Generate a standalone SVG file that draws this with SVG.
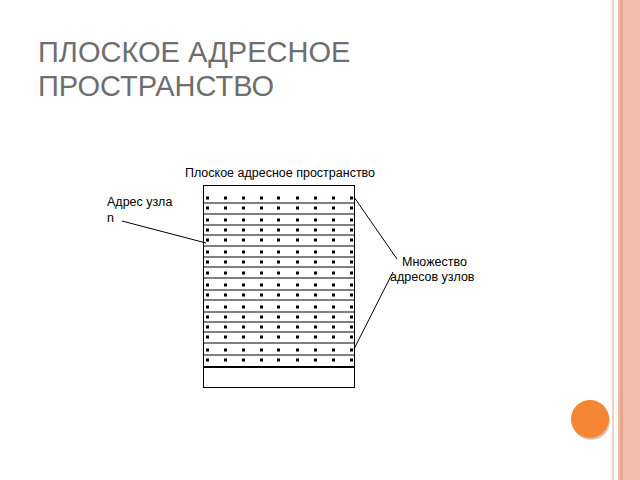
<svg xmlns="http://www.w3.org/2000/svg" width="640" height="480" viewBox="0 0 640 480">
<style>
.h{font-family:"Liberation Sans",Arial,sans-serif;font-size:29px;fill:#6e6e6e}
.t{font-family:"Liberation Sans",Arial,sans-serif;font-size:12.5px;fill:#000}
.ln{stroke:#000;stroke-width:1;fill:none}
</style>
<defs>
<g id="dots" fill="#000">
<rect x="206" y="-1.5" width="3" height="3"/><rect x="224" y="-1.5" width="3" height="3"/><rect x="242" y="-1.5" width="3" height="3"/><rect x="260" y="-1.5" width="3" height="3"/><rect x="277" y="-1.5" width="3" height="3"/><rect x="296" y="-1.5" width="3" height="3"/><rect x="314" y="-1.5" width="3" height="3"/><rect x="332" y="-1.5" width="3" height="3"/><rect x="350" y="-1.5" width="3" height="3"/>
</g>
</defs>
<rect width="640" height="480" fill="#fff"/>
<rect x="612" y="0" width="2" height="480" fill="#f6d0c2"/>
<rect x="618" y="0" width="22" height="480" fill="#f2bcaa"/>
<rect x="620" y="0" width="3" height="480" fill="#eaa68e"/>
<circle cx="591" cy="421" r="19" fill="#a07060" opacity="0.4"/>
<circle cx="590" cy="419" r="19" fill="#f58634"/>
<text class="h" x="38" y="62">ПЛОСКОЕ АДРЕСНОЕ</text>
<text class="h" x="38" y="96">ПРОСТРАНСТВО</text>
<g id="title"><text class="t" x="280" y="177" text-anchor="middle" font-size="13.5">Плоское адресное пространство</text></g>
<g id="space">
<rect class="ln" x="203.5" y="185.5" width="151" height="202"/>
<g class="ln">
<path d="M203 203H354M203 214H354M203 225H354M203 235H354M203 246H354M203 257H354M203 267H354M203 278H354M203 290H354M203 300H354M203 312H354M203 322H354M203 332H354M203 343H354M203 355H354"/>
<path d="M203 367H354" stroke-width="2"/>
</g>
<use href="#dots" y="198"/><use href="#dots" y="208"/><use href="#dots" y="220"/><use href="#dots" y="230"/><use href="#dots" y="240"/><use href="#dots" y="252"/><use href="#dots" y="262"/><use href="#dots" y="273"/><use href="#dots" y="285"/><use href="#dots" y="295"/><use href="#dots" y="307"/><use href="#dots" y="317"/><use href="#dots" y="327"/><use href="#dots" y="337"/><use href="#dots" y="350"/><use href="#dots" y="360"/>
</g>
<g id="label-node"><text class="t" x="107" y="206">Адрес узла</text><text class="t" x="107" y="222">n</text></g>
<g id="label-set"><text class="t" x="402" y="266">Множество</text><text class="t" x="390" y="281">адресов узлов</text></g>
<g id="connectors" class="ln">
<path d="M122 221L206 243"/>
<path d="M354 197L397 259"/>
<path d="M354 349L393 272"/>
</g>
</svg>
